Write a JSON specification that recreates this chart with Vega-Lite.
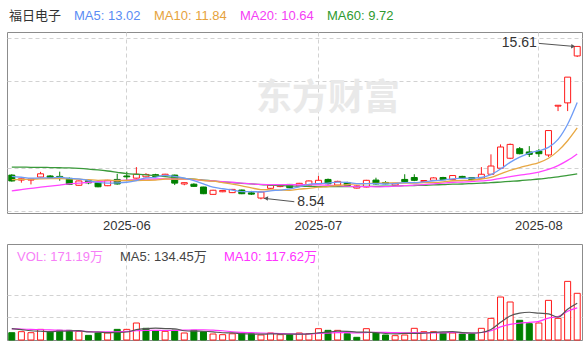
{
"$schema": "https://vega.github.io/schema/vega-lite/v6.json",
"padding": {"left": 3, "top": 8, "right": 3, "bottom": 3},
"bounds": "flush",
"spacing": 31,
"config": {
  "font": "Liberation Sans, Noto Sans CJK SC, sans-serif",
  "view": {"stroke": "#8c8c8c", "strokeWidth": 1},
  "axis": {"gridColor": "#d2d2d2", "gridDash": [4, 3], "gridWidth": 1, "domain": false, "ticks": false}
},
"datasets": {
"k": [
{"d":"2025-05-15","o":9.66,"h":9.70,"l":9.36,"c":9.39,"k":"down","v":26.8,"vk":"down","ma5":9.60,"ma10":9.45,"ma20":8.93,"ma60":10.03,"vma5":42,"vma10":41},
{"d":"2025-05-16","o":9.43,"h":9.50,"l":9.31,"c":9.49,"k":"up","v":30.5,"vk":"up","ma5":9.56,"ma10":9.46,"ma20":8.99,"ma60":10.03,"vma5":38,"vma10":40},
{"d":"2025-05-19","o":9.43,"h":9.49,"l":9.23,"c":9.48,"k":"up","v":26.8,"vk":"up","ma5":9.52,"ma10":9.47,"ma20":9.05,"ma60":10.02,"vma5":34,"vma10":39},
{"d":"2025-05-20","o":9.57,"h":9.81,"l":9.55,"c":9.72,"k":"up","v":39,"vk":"up","ma5":9.53,"ma10":9.49,"ma20":9.10,"ma60":10.02,"vma5":32,"vma10":38},
{"d":"2025-05-21","o":9.62,"h":9.66,"l":9.48,"c":9.55,"k":"down","v":29,"vk":"down","ma5":9.53,"ma10":9.50,"ma20":9.15,"ma60":10.01,"vma5":30.4,"vma10":37},
{"d":"2025-05-22","o":9.60,"h":9.82,"l":9.40,"c":9.56,"k":"down","v":35.4,"vk":"down","ma5":9.56,"ma10":9.50,"ma20":9.20,"ma60":10.00,"vma5":32.1,"vma10":36},
{"d":"2025-05-23","o":9.51,"h":9.55,"l":9.20,"c":9.23,"k":"down","v":35.4,"vk":"down","ma5":9.51,"ma10":9.49,"ma20":9.25,"ma60":9.99,"vma5":33.1,"vma10":35},
{"d":"2025-05-26","o":9.19,"h":9.41,"l":9.17,"c":9.39,"k":"up","v":31.8,"vk":"up","ma5":9.49,"ma10":9.47,"ma20":9.29,"ma60":9.97,"vma5":34.1,"vma10":33},
{"d":"2025-05-27","o":9.40,"h":9.43,"l":9.24,"c":9.30,"k":"down","v":17,"vk":"down","ma5":9.41,"ma10":9.45,"ma20":9.33,"ma60":9.94,"vma5":29.7,"vma10":31},
{"d":"2025-05-28","o":9.31,"h":9.33,"l":9.10,"c":9.12,"k":"down","v":25.7,"vk":"down","ma5":9.32,"ma10":9.42,"ma20":9.36,"ma60":9.90,"vma5":29.1,"vma10":29.7},
{"d":"2025-05-29","o":9.17,"h":9.44,"l":9.15,"c":9.42,"k":"up","v":25.7,"vk":"up","ma5":9.29,"ma10":9.43,"ma20":9.39,"ma60":9.85,"vma5":27.1,"vma10":29.6},
{"d":"2025-05-30","o":9.46,"h":9.72,"l":9.22,"c":9.25,"k":"down","v":39,"vk":"down","ma5":9.30,"ma10":9.40,"ma20":9.41,"ma60":9.79,"vma5":27.8,"vma10":30.5},
{"d":"2025-06-03","o":9.62,"h":9.82,"l":9.40,"c":9.58,"k":"down","v":39,"vk":"up","ma5":9.33,"ma10":9.41,"ma20":9.43,"ma60":9.73,"vma5":29.3,"vma10":31.7},
{"d":"2025-06-04","o":9.52,"h":10.03,"l":9.50,"c":9.70,"k":"up","v":62.3,"vk":"up","ma5":9.41,"ma10":9.41,"ma20":9.45,"ma60":9.70,"vma5":38.3,"vma10":34.0},
{"d":"2025-06-05","o":9.58,"h":9.75,"l":9.55,"c":9.69,"k":"up","v":42.8,"vk":"down","ma5":9.53,"ma10":9.42,"ma20":9.47,"ma60":9.67,"vma5":41.8,"vma10":35.4},
{"d":"2025-06-06","o":9.68,"h":9.72,"l":9.56,"c":9.60,"k":"down","v":33,"vk":"down","ma5":9.56,"ma10":9.43,"ma20":9.48,"ma60":9.63,"vma5":43.2,"vma10":35.2},
{"d":"2025-06-09","o":9.62,"h":9.72,"l":9.58,"c":9.70,"k":"up","v":31.8,"vk":"up","ma5":9.65,"ma10":9.48,"ma20":9.49,"ma60":9.59,"vma5":41.8,"vma10":34.8},
{"d":"2025-06-10","o":9.66,"h":9.68,"l":9.20,"c":9.29,"k":"down","v":36.7,"vk":"down","ma5":9.60,"ma10":9.47,"ma20":9.48,"ma60":9.55,"vma5":41.3,"vma10":35.3},
{"d":"2025-06-11","o":9.25,"h":9.32,"l":9.19,"c":9.31,"k":"up","v":25.7,"vk":"up","ma5":9.52,"ma10":9.47,"ma20":9.47,"ma60":9.51,"vma5":34,"vma10":36.2},
{"d":"2025-06-12","o":9.24,"h":9.28,"l":9.12,"c":9.14,"k":"down","v":35.4,"vk":"down","ma5":9.41,"ma10":9.47,"ma20":9.45,"ma60":9.47,"vma5":32.5,"vma10":37.1},
{"d":"2025-06-13","o":9.11,"h":9.12,"l":8.78,"c":8.80,"k":"down","v":30.5,"vk":"down","ma5":9.25,"ma10":9.41,"ma20":9.42,"ma60":9.43,"vma5":32.0,"vma10":37.6},
{"d":"2025-06-16","o":8.77,"h":8.98,"l":8.75,"c":8.96,"k":"up","v":22,"vk":"up","ma5":9.10,"ma10":9.38,"ma20":9.39,"ma60":9.39,"vma5":30.1,"vma10":35.9},
{"d":"2025-06-17","o":8.89,"h":8.97,"l":8.87,"c":8.95,"k":"up","v":19.5,"vk":"up","ma5":9.03,"ma10":9.31,"ma20":9.36,"ma60":9.35,"vma5":26.6,"vma10":34.0},
{"d":"2025-06-18","o":8.85,"h":9.02,"l":8.83,"c":9.00,"k":"up","v":22.8,"vk":"up","ma5":8.97,"ma10":9.24,"ma20":9.33,"ma60":9.31,"vma5":26.0,"vma10":30.0},
{"d":"2025-06-19","o":8.97,"h":8.99,"l":8.78,"c":8.80,"k":"down","v":22.8,"vk":"down","ma5":8.90,"ma10":9.16,"ma20":9.29,"ma60":9.28,"vma5":23.5,"vma10":28.0},
{"d":"2025-06-20","o":8.84,"h":8.93,"l":8.74,"c":8.78,"k":"down","v":22.8,"vk":"down","ma5":8.90,"ma10":9.07,"ma20":9.25,"ma60":9.25,"vma5":22.0,"vma10":27.0},
{"d":"2025-06-23","o":8.60,"h":8.89,"l":8.54,"c":8.88,"k":"up","v":18.3,"vk":"up","ma5":8.88,"ma10":8.99,"ma20":9.23,"ma60":9.22,"vma5":21.2,"vma10":25.7},
{"d":"2025-06-24","o":9.05,"h":9.21,"l":9.02,"c":9.19,"k":"up","v":25.7,"vk":"up","ma5":8.93,"ma10":8.98,"ma20":9.22,"ma60":9.20,"vma5":22.5,"vma10":24.6},
{"d":"2025-06-25","o":9.13,"h":9.21,"l":9.10,"c":9.19,"k":"up","v":19.5,"vk":"up","ma5":8.97,"ma10":8.97,"ma20":9.22,"ma60":9.18,"vma5":21.8,"vma10":23.9},
{"d":"2025-06-26","o":9.23,"h":9.25,"l":9.06,"c":9.08,"k":"down","v":19.5,"vk":"down","ma5":9.02,"ma10":8.96,"ma20":9.22,"ma60":9.16,"vma5":21.2,"vma10":22.3},
{"d":"2025-06-27","o":9.16,"h":9.30,"l":9.13,"c":9.28,"k":"up","v":25.7,"vk":"up","ma5":9.12,"ma10":9.01,"ma20":9.21,"ma60":9.15,"vma5":21.7,"vma10":21.9},
{"d":"2025-06-30","o":9.20,"h":9.41,"l":9.18,"c":9.39,"k":"up","v":23,"vk":"up","ma5":9.23,"ma10":9.05,"ma20":9.22,"ma60":9.14,"vma5":22.7,"vma10":22.0},
{"d":"2025-07-01","o":9.26,"h":9.62,"l":9.24,"c":9.42,"k":"up","v":41.5,"vk":"up","ma5":9.27,"ma10":9.10,"ma20":9.21,"ma60":9.13,"vma5":25.8,"vma10":24.2},
{"d":"2025-07-02","o":9.46,"h":9.50,"l":9.22,"c":9.26,"k":"down","v":35.4,"vk":"down","ma5":9.29,"ma10":9.13,"ma20":9.19,"ma60":9.13,"vma5":29.0,"vma10":25.4},
{"d":"2025-07-03","o":9.20,"h":9.40,"l":9.18,"c":9.37,"k":"up","v":35.4,"vk":"up","ma5":9.34,"ma10":9.18,"ma20":9.17,"ma60":9.13,"vma5":32.2,"vma10":26.7},
{"d":"2025-07-04","o":9.32,"h":9.35,"l":9.12,"c":9.15,"k":"down","v":23,"vk":"down","ma5":9.32,"ma10":9.22,"ma20":9.15,"ma60":9.13,"vma5":31.7,"vma10":26.7},
{"d":"2025-07-07","o":9.06,"h":9.18,"l":9.04,"c":9.16,"k":"up","v":9.8,"vk":"down","ma5":9.27,"ma10":9.25,"ma20":9.12,"ma60":9.13,"vma5":29.0,"vma10":25.9},
{"d":"2025-07-08","o":9.11,"h":9.44,"l":9.09,"c":9.42,"k":"up","v":41.5,"vk":"up","ma5":9.27,"ma10":9.27,"ma20":9.13,"ma60":9.14,"vma5":29.0,"vma10":27.4},
{"d":"2025-07-09","o":9.43,"h":9.54,"l":9.22,"c":9.25,"k":"down","v":26.9,"vk":"down","ma5":9.27,"ma10":9.28,"ma20":9.12,"ma60":9.14,"vma5":27.3,"vma10":28.2},
{"d":"2025-07-10","o":9.32,"h":9.38,"l":9.23,"c":9.26,"k":"down","v":18.3,"vk":"down","ma5":9.25,"ma10":9.30,"ma20":9.13,"ma60":9.15,"vma5":23.9,"vma10":28.1},
{"d":"2025-07-11","o":9.20,"h":9.30,"l":9.18,"c":9.28,"k":"up","v":15.9,"vk":"up","ma5":9.27,"ma10":9.30,"ma20":9.15,"ma60":9.16,"vma5":22.5,"vma10":27.1},
{"d":"2025-07-14","o":9.46,"h":9.70,"l":9.34,"c":9.36,"k":"down","v":18.3,"vk":"up","ma5":9.31,"ma10":9.29,"ma20":9.17,"ma60":9.17,"vma5":24.2,"vma10":26.6},
{"d":"2025-07-15","o":9.55,"h":9.70,"l":9.38,"c":9.42,"k":"down","v":42.8,"vk":"up","ma5":9.31,"ma10":9.29,"ma20":9.20,"ma60":9.18,"vma5":24.4,"vma10":26.7},
{"d":"2025-07-16","o":9.36,"h":9.43,"l":9.33,"c":9.41,"k":"up","v":30.5,"vk":"up","ma5":9.35,"ma10":9.31,"ma20":9.22,"ma60":9.19,"vma5":25.2,"vma10":26.2},
{"d":"2025-07-17","o":9.42,"h":9.56,"l":9.40,"c":9.53,"k":"up","v":30.5,"vk":"up","ma5":9.40,"ma10":9.32,"ma20":9.25,"ma60":9.21,"vma5":27.6,"vma10":25.8},
{"d":"2025-07-18","o":9.55,"h":9.58,"l":9.43,"c":9.45,"k":"down","v":25.7,"vk":"down","ma5":9.43,"ma10":9.35,"ma20":9.29,"ma60":9.22,"vma5":29.6,"vma10":26.0},
{"d":"2025-07-21","o":9.46,"h":9.66,"l":9.44,"c":9.64,"k":"up","v":25.7,"vk":"up","ma5":9.49,"ma10":9.40,"ma20":9.33,"ma60":9.24,"vma5":31.0,"vma10":27.6},
{"d":"2025-07-22","o":9.60,"h":9.63,"l":9.50,"c":9.53,"k":"down","v":22,"vk":"down","ma5":9.51,"ma10":9.41,"ma20":9.34,"ma60":9.25,"vma5":26.9,"vma10":25.7},
{"d":"2025-07-23","o":9.55,"h":9.57,"l":9.42,"c":9.45,"k":"down","v":22,"vk":"down","ma5":9.52,"ma10":9.43,"ma20":9.36,"ma60":9.27,"vma5":25.2,"vma10":25.2},
{"d":"2025-07-24","o":9.52,"h":10.03,"l":9.50,"c":9.70,"k":"up","v":42.8,"vk":"up","ma5":9.55,"ma10":9.48,"ma20":9.39,"ma60":9.29,"vma5":27.6,"vma10":27.6},
{"d":"2025-07-25","o":9.70,"h":10.62,"l":9.68,"c":10.08,"k":"up","v":79.4,"vk":"up","ma5":9.68,"ma10":9.56,"ma20":9.43,"ma60":9.31,"vma5":38.4,"vma10":34.0},
{"d":"2025-07-28","o":9.98,"h":11.08,"l":9.96,"c":10.96,"k":"up","v":157.6,"vk":"up","ma5":9.94,"ma10":9.72,"ma20":9.51,"ma60":9.34,"vma5":64.8,"vma10":47.9},
{"d":"2025-07-29","o":10.44,"h":11.12,"l":10.40,"c":11.08,"k":"up","v":139.3,"vk":"up","ma5":10.25,"ma10":9.88,"ma20":9.59,"ma60":9.37,"vma5":88.2,"vma10":57.6},
{"d":"2025-07-30","o":10.88,"h":10.96,"l":10.62,"c":10.65,"k":"down","v":72.2,"vk":"down","ma5":10.49,"ma10":10.01,"ma20":9.66,"ma60":9.40,"vma5":98.3,"vma10":61.7},
{"d":"2025-07-31","o":10.73,"h":11.00,"l":10.50,"c":10.62,"k":"down","v":59.9,"vk":"down","ma5":10.68,"ma10":10.12,"ma20":9.72,"ma60":9.44,"vma5":101.7,"vma10":64.7},
{"d":"2025-08-01","o":10.77,"h":10.87,"l":10.50,"c":10.65,"k":"down","v":62.3,"vk":"up","ma5":10.79,"ma10":10.24,"ma20":9.80,"ma60":9.48,"vma5":98.3,"vma10":68.3},
{"d":"2025-08-04","o":10.59,"h":11.72,"l":10.50,"c":11.72,"k":"up","v":145.4,"vk":"up","ma5":10.94,"ma10":10.44,"ma20":9.92,"ma60":9.53,"vma5":95.8,"vma10":80.3},
{"d":"2025-08-05","o":12.85,"h":12.89,"l":12.62,"c":12.89,"k":"up","v":79.4,"vk":"up","ma5":11.31,"ma10":10.78,"ma20":10.10,"ma60":9.58,"vma5":83.8,"vma10":86.0},
{"d":"2025-08-06","o":13.00,"h":14.19,"l":12.62,"c":14.19,"k":"up","v":215,"vk":"up","ma5":12.01,"ma10":11.25,"ma20":10.34,"ma60":9.65,"vma5":112.4,"vma10":105.3},
{"d":"2025-08-07","o":15.17,"h":15.61,"l":15.12,"c":15.61,"k":"up","v":171.19,"vk":"up","ma5":13.02,"ma10":11.84,"ma20":10.64,"ma60":9.72,"vma5":134.45,"vma10":117.62}
],
"ann": [
{"d":"2025-08-01","p":15.75,"to":"2025-08-07","tp":15.61,"label":"15.61","kind":"high"},
{"d":"2025-06-27","p":8.43,"to":"2025-06-23","tp":8.54,"label":"8.54","kind":"low"}
]
},
"vconcat": [
{
  "width": 575,
  "height": 181,
  "data": {"name": "k"},
  "encoding": {
    "x": {"field": "d", "type": "ordinal", "scale": {"paddingInner": 0, "paddingOuter": 0},
      "axis": {"title": null, "values": ["2025-06-03", "2025-07-01", "2025-08-01"], "labelExpr": "slice(datum.value, 0, 7)", "labelAngle": 0, "labelFontSize": 13, "labelColor": "#333333", "labelPadding": 6, "grid": true, "bandPosition": 0.5}}
  },
  "layer": [
    {"data": {"values": [{}]}, "mark": {"type": "text", "text": "东方财富", "fontSize": 36, "fontWeight": "bold", "font": "Noto Sans CJK SC", "color": "#e9e9e9", "baseline": "middle", "align": "center"},
     "encoding": {"x": {"datum": "2025-07-02"}, "y": {"datum": 13.2}}},
    {"mark": {"type": "rule", "strokeWidth": 1},
     "encoding": {
       "y": {"field": "l", "type": "quantitative", "scale": {"domain": [7.908, 16.277], "nice": false, "zero": false},
             "axis": {"title": null, "labels": false, "values": [8, 10, 12, 14, 16], "grid": true}},
       "y2": {"field": "h"},
       "stroke": {"field": "k", "type": "nominal", "scale": {"domain": ["up", "down"], "range": ["#ff1a1a", "#008000"]}, "legend": null}
     }},
    {"mark": {"type": "bar", "size": 6, "strokeWidth": 1},
     "encoding": {
       "y": {"field": "o", "type": "quantitative"},
       "y2": {"field": "c"},
       "fill": {"field": "k", "type": "nominal", "scale": {"domain": ["up", "down"], "range": ["#ffffff", "#008000"]}, "legend": null},
       "stroke": {"field": "k", "type": "nominal", "legend": null}
     }},
    {"mark": {"type": "line", "strokeWidth": 1.3, "interpolate": "monotone"},
     "encoding": {"y": {"field": "ma60", "type": "quantitative"},
       "color": {"datum": "MA60: 9.72", "scale": {"domain": ["MA5: 13.02", "MA10: 11.84", "MA20: 10.64", "MA60: 9.72"], "range": ["#6f9cf6", "#e8a843", "#ff44ff", "#3a9a3a"]},
         "legend": {"orient": "none", "legendX": 2, "legendY": -23, "direction": "horizontal", "columns": 4, "title": "福日电子", "titleOrient": "left", "titleFontSize": 13, "titleFontWeight": "normal", "titleColor": "#333333", "titlePadding": -1, "titleBaseline": "middle", "labelFontSize": 13, "labelColor": {"expr": "datum.value === 'MA5: 13.02' ? '#5a8cf4' : datum.value === 'MA10: 11.84' ? '#e6a23c' : datum.value === 'MA20: 10.64' ? '#f53df5' : '#2f9a2f'"}, "symbolSize": 0, "symbolOpacity": 0, "symbolStrokeWidth": 0, "labelOffset": 0, "columnPadding": -2, "padding": 0}}}},
    {"mark": {"type": "line", "strokeWidth": 1.3, "interpolate": "monotone"},
     "encoding": {"y": {"field": "ma20", "type": "quantitative"}, "color": {"datum": "MA20: 10.64"}}},
    {"mark": {"type": "line", "strokeWidth": 1.3, "interpolate": "monotone"},
     "encoding": {"y": {"field": "ma10", "type": "quantitative"}, "color": {"datum": "MA10: 11.84"}}},
    {"mark": {"type": "line", "strokeWidth": 1.3, "interpolate": "monotone"},
     "encoding": {"y": {"field": "ma5", "type": "quantitative"}, "color": {"datum": "MA5: 13.02"}}},
    {"data": {"name": "ann"}, "transform": [{"filter": "datum.kind === 'high'"}],
     "mark": {"type": "rule", "color": "#555555", "strokeWidth": 1, "x2Offset": -3},
     "encoding": {"x": {"field": "d", "type": "ordinal"}, "x2": {"field": "to"}, "y": {"field": "p", "type": "quantitative"}, "y2": {"field": "tp"}}},
    {"data": {"name": "ann"}, "transform": [{"filter": "datum.kind === 'high'"}],
     "mark": {"type": "point", "shape": "triangle-right", "size": 22, "filled": true, "color": "#555555", "opacity": 1, "xOffset": -4, "angle": 5},
     "encoding": {"x": {"field": "to", "type": "ordinal"}, "y": {"field": "tp", "type": "quantitative"}}},
    {"data": {"name": "ann"}, "transform": [{"filter": "datum.kind === 'high'"}],
     "mark": {"type": "text", "align": "right", "baseline": "middle", "fontSize": 14, "color": "#333333", "dx": -2},
     "encoding": {"x": {"field": "d", "type": "ordinal"}, "y": {"field": "p", "type": "quantitative"}, "text": {"field": "label"}}},
    {"data": {"name": "ann"}, "transform": [{"filter": "datum.kind === 'low'"}],
     "mark": {"type": "rule", "color": "#555555", "strokeWidth": 1, "xOffset": -5, "x2Offset": 3, "y2Offset": -1},
     "encoding": {"x": {"field": "d", "type": "ordinal"}, "x2": {"field": "to"}, "y": {"field": "p", "type": "quantitative"}, "y2": {"field": "tp"}}},
    {"data": {"name": "ann"}, "transform": [{"filter": "datum.kind === 'low'"}],
     "mark": {"type": "point", "shape": "triangle-left", "size": 22, "filled": true, "color": "#555555", "opacity": 1, "xOffset": 5, "yOffset": -1, "angle": 5},
     "encoding": {"x": {"field": "to", "type": "ordinal"}, "y": {"field": "tp", "type": "quantitative"}}},
    {"data": {"name": "ann"}, "transform": [{"filter": "datum.kind === 'low'"}],
     "mark": {"type": "text", "align": "left", "baseline": "middle", "fontSize": 14, "color": "#333333", "dx": -2},
     "encoding": {"x": {"field": "d", "type": "ordinal"}, "y": {"field": "p", "type": "quantitative"}, "text": {"field": "label"}}}
  ]
},
{
  "width": 575,
  "height": 96,
  "data": {"name": "k"},
  "encoding": {
    "x": {"field": "d", "type": "ordinal", "scale": {"paddingInner": 0, "paddingOuter": 0},
      "axis": {"title": null, "labels": false, "values": ["2025-06-03", "2025-07-01", "2025-08-01"], "grid": true, "bandPosition": 0.5}}
  },
  "layer": [
    {"mark": {"type": "bar", "size": 6, "strokeWidth": 1},
     "encoding": {
       "y": {"field": "v", "type": "quantitative", "scale": {"domain": [0, 352], "nice": false}, "axis": {"title": null, "labels": false, "values": [84, 165], "grid": true}},
       "fill": {"field": "vk", "type": "nominal", "scale": {"domain": ["up", "down"], "range": ["#ffffff", "#008000"]}, "legend": null},
       "stroke": {"field": "vk", "type": "nominal", "scale": {"domain": ["up", "down"], "range": ["#ff1a1a", "#008000"]}, "legend": null}
     }},
    {"mark": {"type": "line", "strokeWidth": 1.2, "interpolate": "monotone"},
     "encoding": {"y": {"field": "vma10", "type": "quantitative"},
       "color": {"datum": "MA10: 117.62万", "scale": {"domain": ["VOL: 171.19万", "MA5: 134.45万", "MA10: 117.62万"], "range": ["#f77ff7", "#555555", "#ff33ff"]},
         "legend": {"orient": "none", "legendX": -3, "legendY": 6, "direction": "horizontal", "columns": 3, "title": null, "labelFontSize": 13, "labelColor": {"expr": "datum.value === 'VOL: 171.19万' ? '#f77ff7' : datum.value === 'MA5: 134.45万' ? '#444444' : '#ff33ff'"}, "symbolSize": 0, "symbolOpacity": 0, "symbolStrokeWidth": 0, "labelOffset": 0, "columnPadding": 4, "padding": 0}}}},
    {"mark": {"type": "line", "strokeWidth": 1.2, "interpolate": "monotone"},
     "encoding": {"y": {"field": "vma5", "type": "quantitative"}, "color": {"datum": "MA5: 134.45万"}}}
  ]
}
],
"resolve": {"scale": {"color": "independent", "fill": "independent", "stroke": "independent", "y": "independent"}, "legend": {"color": "independent"}}
}
